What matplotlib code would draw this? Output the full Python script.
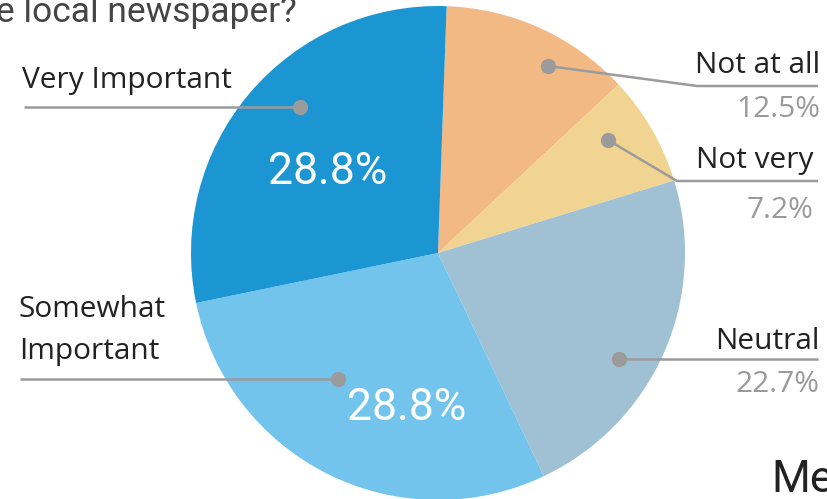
import matplotlib
matplotlib.use("Agg")
import matplotlib.pyplot as plt

# ---- data ----
categories = ["Not at all", "Not very", "Neutral", "Somewhat\nImportant", "Very Important"]
values = [12.5, 7.2, 22.7, 28.8, 28.8]
colors = ["#F2B985", "#F2D492", "#A0C1D4", "#72C4EC", "#1B96D3"]
title = "How important is the local newspaper?"
next_title = "Mean"

W, H = 828, 499
fig = plt.figure(figsize=(W / 100, H / 100), dpi=100)
ax = fig.add_axes([0, 0, 1, 1])

def Y(y):
    return H - y

cx, cy, R = 438, 253, 247
wedges, _ = ax.pie(values, colors=colors, startangle=88, counterclock=False,
                   center=(cx, Y(cy)), radius=R, frame=True,
                   wedgeprops=dict(linewidth=0))
ax.set_xlim(0, W)
ax.set_ylim(0, H)
ax.set_aspect("equal")
ax.axis("off")

line_c = "#9B9B9B"
lab_c = "#222222"
pct_c = "#9A9A9A"
lab_font = "Open Sans"
lab_fs = 21.5

# external label layouts: dot, elbow, end, label anchor, side
layout = {
    0: dict(dot=(548, 66), elbow=(697, 86), end=(818, 86), lab=(820, 73), pct=(820, 117), side="right"),
    1: dict(dot=(608, 140), elbow=(677, 181), end=(818, 181), lab=(814, 168), pct=(814, 218), side="right"),
    2: dict(dot=(619, 359), elbow=(619, 359), end=(818, 359), lab=(820, 349), pct=(820, 392), side="right"),
    3: dict(dot=(338, 379), elbow=(338, 379), end=(20, 379), lab=(19, 359), pct=None, side="left"),
    4: dict(dot=(300, 107), elbow=(300, 107), end=(24, 107), lab=(22, 88), pct=None, side="left"),
}
inside = {3: (407, 408), 4: (328, 172)}

for i, (cat, v) in enumerate(zip(categories, values)):
    L = layout[i]
    xs = [L["dot"][0], L["elbow"][0], L["end"][0]]
    ys = [Y(L["dot"][1]), Y(L["elbow"][1]), Y(L["end"][1])]
    ax.plot(xs, ys, color=line_c, lw=1.8, solid_capstyle="butt", zorder=3)
    ax.plot([L["dot"][0]], [Y(L["dot"][1])], "o", ms=11, color=line_c, mec="none", zorder=4)
    ha = "right" if L["side"] == "right" else "left"
    ax.text(L["lab"][0], Y(L["lab"][1]), cat, ha=ha, va="baseline", color=lab_c,
            fontsize=lab_fs, family=lab_font, linespacing=1.57, zorder=5)
    if L["pct"] is not None:
        ax.text(L["pct"][0], Y(L["pct"][1]), f"{v:.1f}%", ha=ha, va="baseline", color=pct_c,
                fontsize=lab_fs, family=lab_font, zorder=5)
    if i in inside:
        px, py = inside[i]
        ax.text(px, Y(py), f"{v:.1f}%", ha="center", va="center", color="white",
                fontsize=32, family="Roboto", zorder=5)

ax.text(297, Y(22), title, ha="right", va="baseline", color="#454545",
        fontsize=25.5, family="Roboto")
ax.text(771, Y(492), next_title, ha="left", va="baseline", color="#222222",
        fontsize=32, family="Roboto")

fig.savefig("out.png", dpi=100)
